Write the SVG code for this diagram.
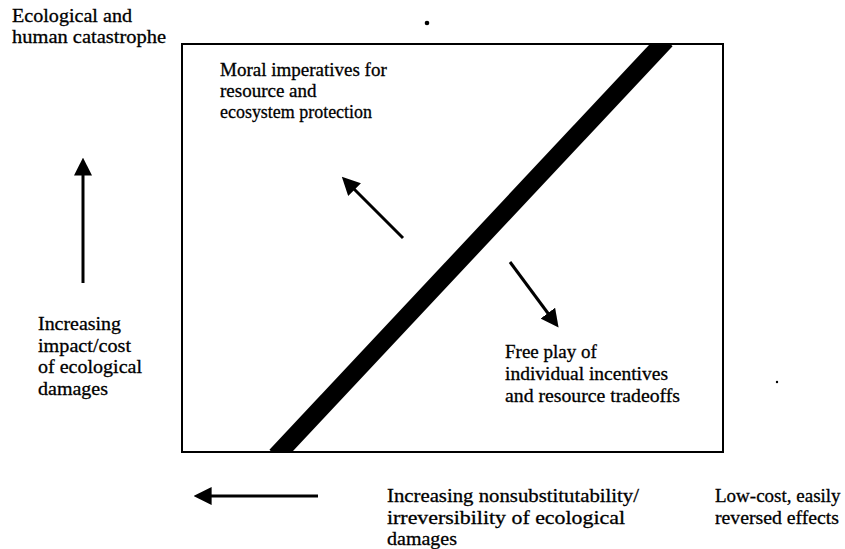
<svg xmlns="http://www.w3.org/2000/svg" width="845" height="549" viewBox="0 0 845 549">
  <style>
    .lbl { font-family: "Liberation Serif", "Times New Roman", serif; font-size: 19px; fill: #000; stroke: #000; stroke-width: 0.3; }
    .frame { fill: none; stroke: #000; stroke-width: 2; }
    .arrow { stroke: #000; stroke-width: 3; fill: none; marker-end: url(#head); }
    .band { stroke: #000; stroke-width: 18; fill: none; }
  </style>
  <defs>
    <marker id="head" viewBox="0 0 10 10" refX="2" refY="5" markerWidth="6" markerHeight="6" orient="auto" markerUnits="strokeWidth">
      <path d="M0,0 L10,5 L0,10 Z" fill="#000"/>
    </marker>
    <clipPath id="boxclip">
      <rect x="182" y="44" width="541" height="408"/>
    </clipPath>
  </defs>

  <rect width="845" height="549" fill="#fff"/>

  <!-- main frame and dividing band -->
  <g id="frame">
    <rect class="frame" x="182" y="44" width="541" height="408"/>
    <line class="band" x1="276" y1="456" x2="666" y2="40" clip-path="url(#boxclip)"/>
  </g>

  <!-- axis and direction arrows -->
  <g id="connectors">
    <line class="arrow" x1="83" y1="283" x2="83" y2="172"/>
    <line class="arrow" x1="318" y1="496" x2="208" y2="496"/>
    <line class="arrow" x1="403" y1="238" x2="352" y2="187"/>
    <line class="arrow" x1="510" y1="262" x2="550" y2="316"/>
  </g>

  <g id="top-label">
    <text class="lbl" x="12" y="22" textLength="120" lengthAdjust="spacingAndGlyphs">Ecological and</text>
    <text class="lbl" x="12" y="43" textLength="154" lengthAdjust="spacingAndGlyphs">human catastrophe</text>
  </g>

  <g id="moral">
    <text class="lbl" x="220" y="76">Moral imperatives for</text>
    <text class="lbl" x="220" y="97">resource and</text>
    <text class="lbl" x="220" y="118" textLength="152" lengthAdjust="spacingAndGlyphs">ecosystem protection</text>
  </g>

  <g id="impact">
    <text class="lbl" x="38" y="330" textLength="83" lengthAdjust="spacingAndGlyphs">Increasing</text>
    <text class="lbl" x="38" y="352" textLength="93" lengthAdjust="spacingAndGlyphs">impact/cost</text>
    <text class="lbl" x="38" y="373" textLength="104" lengthAdjust="spacingAndGlyphs">of ecological</text>
    <text class="lbl" x="38" y="395" textLength="70" lengthAdjust="spacingAndGlyphs">damages</text>
  </g>

  <g id="free-play">
    <text class="lbl" x="505" y="358">Free play of</text>
    <text class="lbl" x="505" y="380" textLength="163" lengthAdjust="spacingAndGlyphs">individual incentives</text>
    <text class="lbl" x="505" y="402" textLength="175" lengthAdjust="spacingAndGlyphs">and resource tradeoffs</text>
  </g>

  <g id="irreversibility">
    <text class="lbl" x="387" y="502" textLength="252" lengthAdjust="spacingAndGlyphs">Increasing nonsubstitutability/</text>
    <text class="lbl" x="387" y="524" textLength="238" lengthAdjust="spacingAndGlyphs">irreversibility of ecological</text>
    <text class="lbl" x="387" y="545" textLength="70" lengthAdjust="spacingAndGlyphs">damages</text>
  </g>

  <g id="low-cost">
    <text class="lbl" x="715" y="502">Low-cost, easily</text>
    <text class="lbl" x="715" y="524" textLength="124" lengthAdjust="spacingAndGlyphs">reversed effects</text>
  </g>

  <!-- specks -->
  <circle cx="427" cy="23" r="2.3" fill="#000"/>
  <circle cx="777" cy="382" r="1.2" fill="#000"/>
</svg>
